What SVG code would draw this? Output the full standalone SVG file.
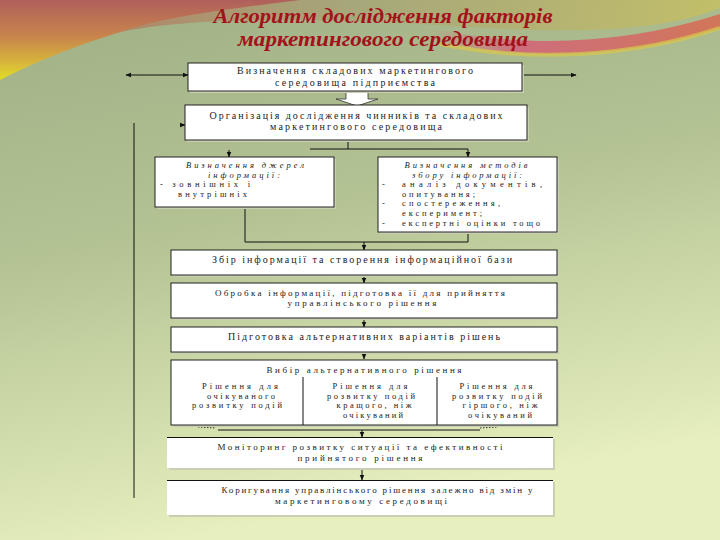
<svg xmlns="http://www.w3.org/2000/svg" width="720" height="540" viewBox="0 0 720 540">
<defs>
<linearGradient id="bg" x1="0" y1="0" x2="0.25" y2="1">
<stop offset="0" stop-color="#9fb086"/>
<stop offset="0.45" stop-color="#b3c293"/>
<stop offset="1" stop-color="#e6efbd"/>
</linearGradient>
<linearGradient id="topL" x1="0" y1="0" x2="0" y2="1">
<stop offset="0" stop-color="#b0605c"/>
<stop offset="0.45" stop-color="#c8844c"/>
<stop offset="0.8" stop-color="#d8b83a"/>
<stop offset="1" stop-color="#e2e024"/>
</linearGradient>
<linearGradient id="topM" x1="0" y1="0" x2="1" y2="0">
<stop offset="0" stop-color="#b66a58" stop-opacity="0.9"/>
<stop offset="0.5" stop-color="#a8a070" stop-opacity="0.6"/>
<stop offset="1" stop-color="#c8c060" stop-opacity="0.8"/>
</linearGradient>
<linearGradient id="band" x1="0" y1="0" x2="1" y2="0">
<stop offset="0" stop-color="#d86a78" stop-opacity="0"/>
<stop offset="0.3" stop-color="#d4607a"/>
<stop offset="1" stop-color="#d86a50"/>
</linearGradient>
<marker id="ah" viewBox="0 0 10 10" refX="9" refY="5" markerWidth="6" markerHeight="6" orient="auto-start-reverse" markerUnits="userSpaceOnUse">
<path d="M0,1 L10,5 L0,9 Z" fill="#111"/>
</marker>
<style>
.box{fill:#ffffff;stroke:#222;stroke-width:1}
.boxn{fill:#ffffff;stroke:none}
.sh{fill:#c9cfb2}
.t{font-family:"Liberation Serif","DejaVu Serif",serif;font-size:10px;fill:#222}
.s{font-size:8.5px}
.m{font-size:9px}
.i{font-style:italic}
.c{text-anchor:middle}
.ln{fill:none;stroke:#111;stroke-width:1}
.title{font-family:"Liberation Serif","DejaVu Serif",serif;font-size:22px;font-weight:bold;font-style:italic;fill:#a3121a;text-anchor:middle}
</style>
</defs>
<!-- background -->
<rect width="720" height="540" fill="url(#bg)"/>
<path d="M0,0 H720 V8 C640,40 520,30 420,24 C300,18 200,18 130,30 C80,40 40,58 0,80 Z" fill="url(#topM)"/>
<path d="M0,0 H300 C220,10 160,18 120,32 C70,48 35,62 0,80 Z" fill="url(#topL)"/>
<path d="M430,28 C520,48 620,46 720,14 V28 C630,58 520,62 430,40 Z" fill="url(#band)" opacity="0.85"/>
<path d="M440,44 C530,62 630,58 720,28" fill="none" stroke="#d8c84a" stroke-width="4" opacity="0.7"/>

<text class="title" x="383" y="23" textLength="339" lengthAdjust="spacingAndGlyphs">Алгоритм дослідження факторів</text>
<text class="title" x="383" y="46" textLength="290" lengthAdjust="spacingAndGlyphs">маркетингового середовища</text>

<!-- connectors -->
<g id="connectors">
<line class="ln" x1="126" y1="75" x2="188" y2="75" marker-start="url(#ah)" marker-end="url(#ah)"/>
<line class="ln" x1="522" y1="75" x2="576" y2="75" marker-end="url(#ah)"/>
<line class="ln" x1="134" y1="123" x2="134" y2="498"/>
<line class="ln" x1="180" y1="125" x2="185" y2="125" marker-end="url(#ah)"/>
<polygon points="346,91 368,91 368,99 378,99 357,106 336,99 346,99" fill="#fff" stroke="#333" stroke-width="0.8"/>
<polyline class="ln" points="348,140 348,149"/>
<line class="ln" x1="310" y1="149" x2="468" y2="149"/>
<line class="ln" x1="468" y1="149" x2="468" y2="157" marker-end="url(#ah)"/>
<line class="ln" x1="229" y1="150" x2="229" y2="157" marker-end="url(#ah)"/>
<polyline class="ln" points="245,207 245,242 468,242 468,232"/>
<line class="ln" x1="364" y1="242" x2="364" y2="250" marker-end="url(#ah)"/>
<line class="ln" x1="364" y1="275" x2="364" y2="283" marker-end="url(#ah)"/>
<line class="ln" x1="364" y1="318" x2="364" y2="327" marker-end="url(#ah)"/>
<line class="ln" x1="364" y1="352" x2="364" y2="359" marker-end="url(#ah)"/>
<line x1="198" y1="427" x2="216" y2="428" stroke="#333" stroke-width="1" stroke-dasharray="1.5,1.5"/>
<line x1="480" y1="428" x2="498" y2="427" stroke="#333" stroke-width="1" stroke-dasharray="1.5,1.5"/>
<line class="ln" x1="218" y1="430" x2="480" y2="430"/>
<line class="ln" x1="362" y1="430" x2="362" y2="437" marker-end="url(#ah)"/>
<line class="ln" x1="362" y1="469" x2="362" y2="480" marker-end="url(#ah)"/>
</g>

<g id="n1">
<rect class="sh" x="190" y="65" width="334" height="28"/>
<rect class="box" x="188" y="63" width="334" height="28"/>
<text class="t c" x="355" y="74" textLength="236" lengthAdjust="spacing">Визначення складових маркетингового</text>
<text class="t c" x="355" y="86" textLength="160" lengthAdjust="spacing">середовища підприємства</text>
</g>

<g id="n2">
<rect class="sh" x="187" y="107" width="342" height="35"/>
<rect class="box" x="185" y="105" width="342" height="35"/>
<text class="t c" x="356" y="118.5" textLength="293" lengthAdjust="spacing">Організація дослідження чинників та складових</text>
<text class="t c" x="356" y="129.5" textLength="172" lengthAdjust="spacing">маркетингового середовища</text>
</g>

<g id="n3a">
<rect class="sh" x="157" y="159" width="179" height="50"/>
<rect class="box" x="155" y="157" width="179" height="50"/>
<text class="t s i c" x="245" y="168" textLength="118" lengthAdjust="spacing">Визначення джерел</text>
<text class="t s i c" x="244" y="177.5" textLength="72" lengthAdjust="spacing">інформації:</text>
<text class="t s" x="160" y="187" textLength="90" lengthAdjust="spacing">- зовнішніх і</text>
<text class="t s" x="178" y="196.5" textLength="69" lengthAdjust="spacing">внутрішніх</text>
</g>

<g id="n3b">
<rect class="sh" x="380" y="159" width="179" height="75"/>
<rect class="box" x="378" y="157" width="179" height="75"/>
<text class="t s i c" x="466" y="168" textLength="123" lengthAdjust="spacing">Визначення методів</text>
<text class="t s i c" x="467" y="177.5" textLength="110" lengthAdjust="spacing">збору інформації:</text>
<text class="t s" x="382" y="187">-</text>
<text class="t s" x="402" y="187" textLength="140" lengthAdjust="spacing">аналіз документів,</text>
<text class="t s" x="402" y="196.5" textLength="73" lengthAdjust="spacing">опитування;</text>
<text class="t s" x="382" y="206">-</text>
<text class="t s" x="402" y="206" textLength="98" lengthAdjust="spacing">спостереження,</text>
<text class="t s" x="402" y="215.5" textLength="80" lengthAdjust="spacing">експеримент;</text>
<text class="t s" x="382" y="225.5">-</text>
<text class="t s" x="402" y="225.5" textLength="138" lengthAdjust="spacing">експертні оцінки тощо</text>
</g>

<g id="n4">
<rect class="sh" x="173" y="252" width="386" height="25"/>
<rect class="box" x="171" y="250" width="386" height="25"/>
<text class="t c" x="362" y="263" textLength="300" lengthAdjust="spacing">Збір інформації та створення інформаційної бази</text>
</g>

<g id="n5">
<rect class="sh" x="173" y="285" width="386" height="35"/>
<rect class="box" x="171" y="283" width="386" height="35"/>
<text class="t m c" x="360" y="296" textLength="290" lengthAdjust="spacing">Обробка інформації, підготовка її для прийняття</text>
<text class="t m c" x="362" y="306" textLength="149" lengthAdjust="spacing">управлінського рішення</text>
</g>

<g id="n6">
<rect class="sh" x="173" y="329" width="386" height="25"/>
<rect class="box" x="171" y="327" width="386" height="25"/>
<text class="t c" x="364" y="340" textLength="272" lengthAdjust="spacing">Підготовка альтернативних варіантів рішень</text>
</g>

<g id="n7">
<rect class="sh" x="173" y="362" width="386" height="65"/>
<rect class="box" x="171" y="360" width="386" height="65"/>
<line class="ln" x1="303" y1="377" x2="303" y2="425"/>
<line class="ln" x1="437" y1="377" x2="437" y2="425"/>
<text class="t m c" x="364" y="373" textLength="195" lengthAdjust="spacing">Вибір альтернативного рішення</text>
<text class="t s c" x="240" y="389" textLength="76" lengthAdjust="spacing">Рішення для</text>
<text class="t s c" x="241" y="398.5" textLength="68" lengthAdjust="spacing">очікуваного</text>
<text class="t s c" x="237" y="408" textLength="90" lengthAdjust="spacing">розвитку подій</text>
<text class="t s c" x="370" y="389" textLength="75" lengthAdjust="spacing">Рішення для</text>
<text class="t s c" x="371" y="398.5" textLength="88" lengthAdjust="spacing">розвитку подій</text>
<text class="t s c" x="374" y="408" textLength="75" lengthAdjust="spacing">кращого, ніж</text>
<text class="t s c" x="373" y="417.5" textLength="60" lengthAdjust="spacing">очікуваний</text>
<text class="t s c" x="496" y="389" textLength="73" lengthAdjust="spacing">Рішення для</text>
<text class="t s c" x="497" y="398.5" textLength="90" lengthAdjust="spacing">розвитку подій</text>
<text class="t s c" x="500" y="408" textLength="75" lengthAdjust="spacing">гіршого, ніж</text>
<text class="t s c" x="500" y="417.5" textLength="64" lengthAdjust="spacing">очікуваний</text>
</g>

<g id="n8">
<rect class="sh" x="169" y="439" width="386" height="31"/>
<rect class="boxn" x="167" y="437" width="386" height="31"/>
<line class="ln" x1="167" y1="437.5" x2="553" y2="437.5"/>
<text class="t m c" x="360" y="450" textLength="285" lengthAdjust="spacing">Моніторинг розвитку ситуації та ефективності</text>
<text class="t m c" x="360" y="460.5" textLength="125" lengthAdjust="spacing">прийнятого рішення</text>
</g>

<g id="n9">
<rect class="sh" x="169" y="482" width="386" height="35"/>
<rect class="boxn" x="167" y="480" width="386" height="35"/>
<line class="ln" x1="167" y1="480.5" x2="553" y2="480.5"/>
<text class="t m c" x="377" y="493" textLength="311" lengthAdjust="spacing">Коригування управлінського рішення залежно від змін у</text>
<text class="t m c" x="361" y="503.5" textLength="172" lengthAdjust="spacing">маркетинговому середовищі</text>
</g>
</svg>
